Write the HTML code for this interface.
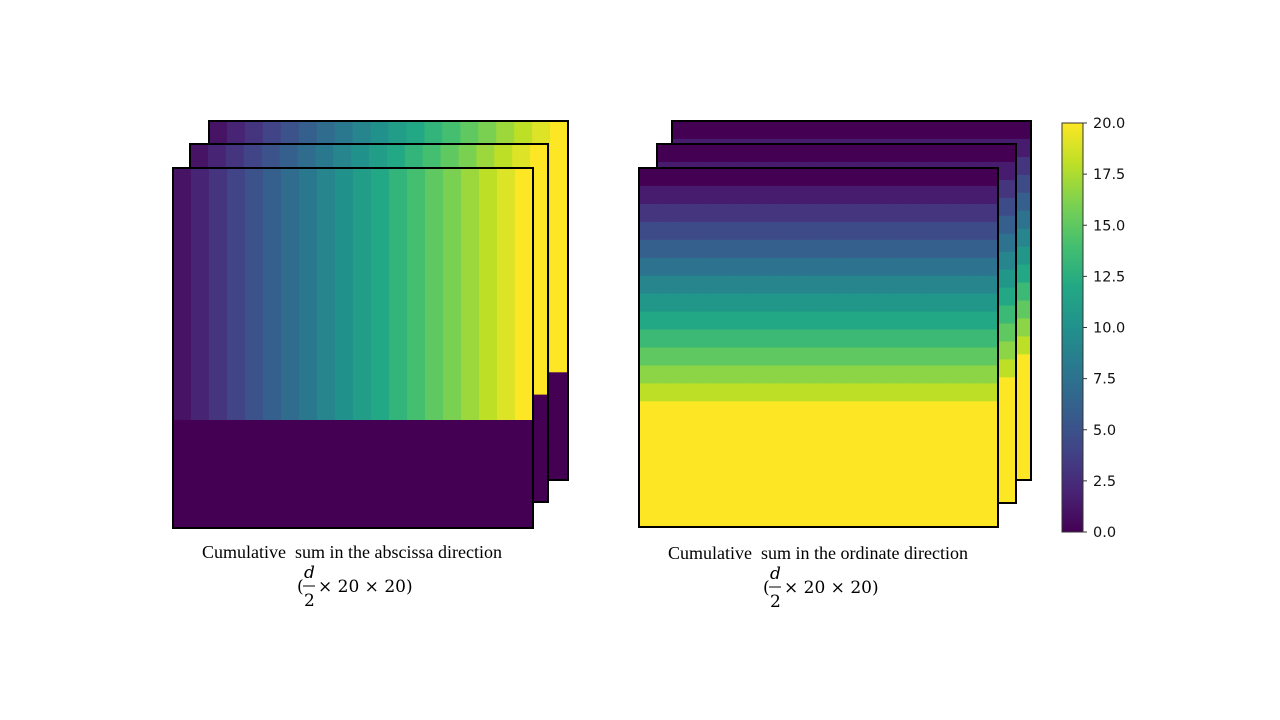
<!DOCTYPE html>
<html><head><meta charset="utf-8"><style>
body{margin:0;background:#fff;width:1280px;height:720px;overflow:hidden}
svg{display:block}
.cap{font-family:"Liberation Serif",serif;font-size:18px;fill:#000}
.math{font-family:"DejaVu Serif","Liberation Serif",serif;font-size:17px;fill:#000}
.tick{font-family:"DejaVu Sans",sans-serif;font-size:14.5px;fill:#111}
</style></head><body>
<svg id="chart" width="1280" height="720">
<defs>
<linearGradient id="vgrad" x1="0" y1="1" x2="0" y2="0">
<stop offset="0" stop-color="#440154"/><stop offset="0.1" stop-color="#482475"/><stop offset="0.2" stop-color="#414487"/><stop offset="0.3" stop-color="#355f8d"/><stop offset="0.4" stop-color="#2a788e"/><stop offset="0.5" stop-color="#21918c"/><stop offset="0.6" stop-color="#22a884"/><stop offset="0.7" stop-color="#44bf70"/><stop offset="0.8" stop-color="#7ad151"/><stop offset="0.9" stop-color="#bddf26"/><stop offset="1" stop-color="#fde725"/>
</linearGradient>
</defs>
<g id="panels"></g>
<g id="cbar"></g>
<text class="cap" x="352" y="558" text-anchor="middle" xml:space="preserve">Cumulative  sum in the abscissa direction</text>
<g>
<text class="math" x="297" y="592">(</text>
<text class="math" x="304" y="578" font-style="italic">d</text>
<line x1="303" y1="586" x2="315" y2="586" stroke="#000" stroke-width="1"/>
<text class="math" x="304" y="606">2</text>
<text class="math" x="318" y="592">× 20 × 20)</text>
</g>
<text class="cap" x="818" y="559" text-anchor="middle" xml:space="preserve">Cumulative  sum in the ordinate direction</text>
<g>
<text class="math" x="763" y="593">(</text>
<text class="math" x="770" y="579" font-style="italic">d</text>
<line x1="769" y1="587" x2="781" y2="587" stroke="#000" stroke-width="1"/>
<text class="math" x="770" y="607">2</text>
<text class="math" x="784" y="593">× 20 × 20)</text>
</g>
</svg>
<script>
// Data
const absColValues = [1,2,3,4,5,6,7,8,9,10,11,12,13,14,15,16,17,18,19,20];
const absFilledRows = 14;
const ordRowValues = [0,1.5,3,4.5,6,7.5,9,10.5,12,13.5,15,16.5,18,20,20,20,20,20,20,20];
const cbarTicks = [0,2.5,5,7.5,10,12.5,15,17.5,20];
const vmin = 0, vmax = 20, gridN = 20;

const NS="http://www.w3.org/2000/svg";
const anchors=["#440154","#482475","#414487","#355f8d","#2a788e","#21918c","#22a884","#44bf70","#7ad151","#bddf26","#fde725"].map(h=>[1,3,5].map(i=>parseInt(h.substr(i,2),16)));
function viridis(v){let t=Math.max(0,Math.min(1,(v-vmin)/(vmax-vmin)))*10;let i=Math.min(9,Math.floor(t)),f=t-i;const a=anchors[i],b=anchors[i+1];return `rgb(${a.map((c,k)=>Math.round(c+(b[k]-c)*f)).join(',')})`;}
function mk(tag,attrs,parent){const e=document.createElementNS(NS,tag);for(const k in attrs)e.setAttribute(k,attrs[k]);parent.appendChild(e);return e;}

const panels=document.getElementById('panels');
function drawPanel(x0,y0,size,valueFn,name){
  const g=mk('g',{},panels);
  
  
  const c=size/gridN;
  for(let r=0;r<gridN;r++)for(let col=0;col<gridN;col++){
    const rc=mk('rect',{x:x0+col*c,y:y0+r*c,width:c+0.6,height:c+0.6,fill:viridis(valueFn(r,col))},g);
    
    
  }
  const b=mk('rect',{x:x0,y:y0,width:size,height:size,fill:'none',stroke:'#000','stroke-width':2},g);
  
  
}
const absFn=(r,c)=> r<absFilledRows?absColValues[c]:0;
const ordFn=(r,c)=> ordRowValues[r];
drawPanel(209,121,359,absFn,'abscissa-slice-back');
drawPanel(190,144,358,absFn,'abscissa-slice-middle');
drawPanel(173,168,360,absFn,'abscissa-slice-front');
drawPanel(672,121,359,ordFn,'ordinate-slice-back');
drawPanel(657,144,359,ordFn,'ordinate-slice-middle');
drawPanel(639,168,359,ordFn,'ordinate-slice-front');

const cb=document.getElementById('cbar');


const cx=1062,cy=123,cw=21,ch=409;
const bar=mk('rect',{x:cx,y:cy,width:cw,height:ch,fill:'url(#vgrad)',stroke:'#333','stroke-width':1},cb);


const ys=v=>cy+ch-(v-vmin)/(vmax-vmin)*ch;
cbarTicks.forEach(v=>{
  const y=ys(v);
  const l=mk('line',{x1:cx+cw,x2:cx+cw+4,y1:y,y2:y,stroke:'#333','stroke-width':1},cb);
  
  
  const t=mk('text',{x:cx+cw+10,y:y+5,class:'tick'},cb);
  t.textContent=v.toFixed(1);
  
  
});
</script>
</body></html>
